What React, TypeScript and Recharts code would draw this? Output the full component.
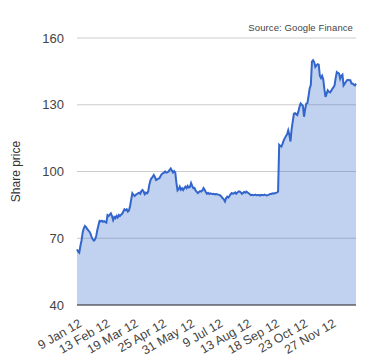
import { Area, AreaChart, CartesianGrid, XAxis, YAxis } from "recharts";

// trading-day closes, Jan 2012 -> Dec 2012
const prices = [
  65.0, 64.0, 63.5, 66.5, 69.0, 72.5, 74.5, 75.5, 75.0, 74.2,
  73.5, 73.0, 72.0, 70.5, 69.5, 69.0, 69.5, 71.0, 73.7, 75.8,
  77.8, 77.6, 77.9, 77.4, 77.7, 77.3, 77.0, 80.4, 80.0, 80.6,
  81.2, 80.0, 78.2, 79.5, 79.0, 80.0, 79.3, 80.5, 80.0, 80.6,
  81.0, 82.0, 83.0, 82.6, 83.0, 82.0, 82.5, 84.5, 87.5, 90.2,
  89.5, 89.0, 89.5, 89.8, 90.2, 90.5, 90.0, 91.2, 91.7, 91.0,
  89.8, 90.5, 90.2, 91.0, 94.0, 96.0, 97.0, 97.6, 98.4, 97.5,
  96.2, 96.5, 96.8, 97.0, 98.0, 98.8, 99.2, 99.5, 100.0, 99.5,
  99.6, 100.0, 100.8, 101.4, 100.5, 99.6, 100.2, 99.5, 95.0, 91.5,
  92.0, 93.2, 91.8, 92.5, 91.7, 92.6, 93.2, 92.5, 93.5, 92.8,
  93.0, 94.8, 93.5, 92.5, 92.6, 91.5, 90.8, 90.3, 90.8, 91.2,
  91.0, 91.5, 92.6, 91.8, 90.8, 90.0, 90.4, 89.9, 90.2, 90.0,
  89.9, 90.0, 89.7, 89.9, 89.8, 89.6, 89.5, 89.2, 88.6, 88.0,
  87.5, 86.5, 88.0, 88.7, 88.3, 89.0, 89.8, 90.3, 90.0, 90.2,
  90.6, 90.0, 90.5, 91.0, 91.0, 90.6, 90.0, 90.4, 90.8, 90.5,
  91.0, 90.6, 90.2, 89.8, 89.4, 89.5, 89.3, 89.4, 89.6, 89.3,
  89.4, 89.4, 89.2, 89.5, 89.4, 89.3, 89.6, 89.4, 89.2, 89.4,
  89.6, 89.9, 89.9, 90.2, 90.0, 90.2, 90.4, 90.5, 91.0, 112.0,
  111.5, 111.2, 112.5, 114.0, 115.0, 116.0, 116.7, 118.5, 116.5, 113.5,
  119.0, 122.4, 126.0, 126.2, 125.8, 125.4, 127.0, 129.1, 130.6, 130.0,
  129.5, 124.6, 128.0, 130.6, 130.8, 134.0, 137.4, 138.9, 149.4, 150.0,
  149.2, 147.0, 147.7, 148.2, 148.0, 143.0, 142.0, 143.0, 141.5, 137.0,
  133.5, 135.0, 136.5, 135.8, 135.5, 136.2, 137.2, 137.8, 138.7, 142.0,
  144.7, 144.3, 144.0, 141.7, 143.0, 143.5, 138.7, 139.5, 140.2, 141.0,
  141.2, 141.0, 141.0, 139.5, 139.5, 139.0, 138.7, 139.5,
];

const tickDays = [3, 28, 53, 78, 103, 128, 153, 178, 203, 228];
const tickLabels = [
  "9 Jan 12", "13 Feb 12", "19 Mar 12", "25 Apr 12", "31 May 12",
  "9 Jul 12", "13 Aug 12", "18 Sep 12", "23 Oct 12", "27 Nov 12",
];
const yTicks = [40, 70, 100, 130, 160];

const data = prices.map((price, day) => ({ day, price }));

const FONT = "'Liberation Sans', Arial, sans-serif";

function DateTick({ x, y, payload }: any) {
  const label = tickLabels[tickDays.indexOf(payload.value)];
  return (
    <g transform={`translate(${x},${y + 9})`}>
      <text
        x={0}
        y={0}
        dy="0.35em"
        textAnchor="end"
        transform="rotate(-30)"
        fill="#444"
        fontSize={12.5}
        fontFamily={FONT}
      >
        {label}
      </text>
    </g>
  );
}

export default function App() {
  return (
    <div style={{ position: "absolute", left: 0, top: 0, width: 380, height: 360, background: "#fff" }}>
      <AreaChart width={380} height={360} data={data} margin={{ top: 38, right: 24, left: 0, bottom: 15 }}>
        <CartesianGrid vertical={false} stroke="#cccccc" />
        <XAxis
          dataKey="day"
          type="number"
          domain={[0, prices.length - 1]}
          ticks={tickDays}
          interval={0}
          height={40}
          axisLine={{ stroke: "#333" }}
          tickLine={false}
          tick={<DateTick />}
        />
        <YAxis
          domain={[40, 160]}
          ticks={yTicks}
          width={77}
          axisLine={false}
          tickLine={false}
          tickMargin={7}
          tick={{ fill: "#444", fontSize: 13, fontFamily: FONT }}
          label={{
            value: "Share price",
            angle: -90,
            position: "insideLeft",
            offset: 16,
            style: { fill: "#333", fontSize: 12, fontFamily: FONT, textAnchor: "middle" },
          }}
        />
        <Area
          type="linear"
          dataKey="price"
          stroke="#3366cc"
          strokeWidth={2}
          fill="#3366cc"
          fillOpacity={0.3}
          dot={false}
          activeDot={false}
          isAnimationActive={false}
        />
      </AreaChart>
      <div
        style={{
          position: "absolute",
          right: 27,
          top: 22,
          fontFamily: FONT,
          fontSize: 9.5,
          color: "#444",
          lineHeight: "11px",
          letterSpacing: 0.1,
        }}
      >
        Source: Google Finance
      </div>
    </div>
  );
}
